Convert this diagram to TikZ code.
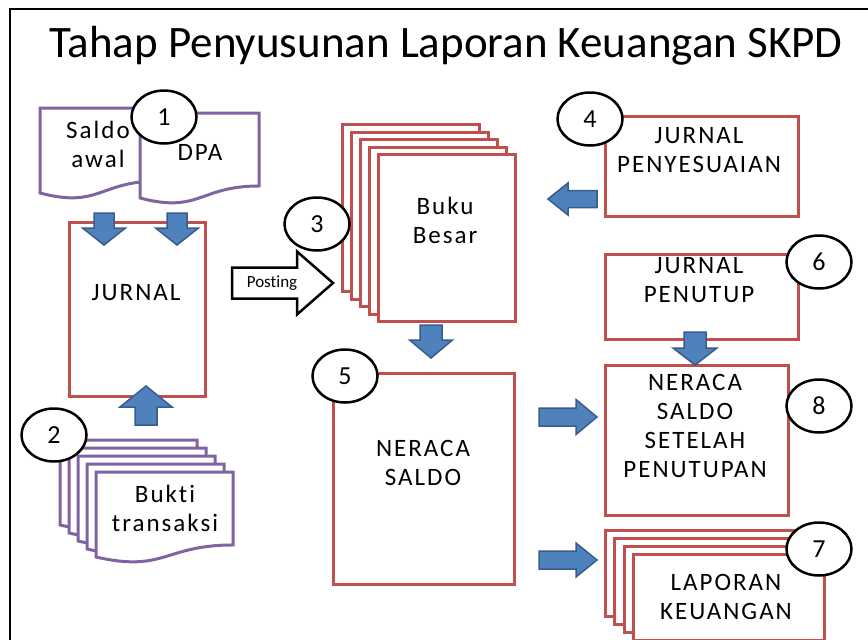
\documentclass[tikz,border=0pt]{standalone}
\usepackage{fontspec}
\setmainfont[Ligatures=NoCommon]{Carlito}
\newfontfamily\spacedfont[LetterSpace=8,Ligatures=NoCommon]{Carlito}
\usetikzlibrary{shapes.geometric}

\definecolor{boxred}{RGB}{192,80,77}
\definecolor{docpurple}{RGB}{128,100,162}
\definecolor{arrowblue}{RGB}{79,129,189}
\definecolor{arrowedge}{RGB}{56,93,138}

% block arrow: style, start, angle, length, shaft width, head width, head length
\newcommand{\blockarrow}[7]{%
  \draw[#1, shift={#2}, rotate=#3]
    (0,-#5/2) -- (#4-#7,-#5/2) -- (#4-#7,-#6/2) -- (#4,0)
    -- (#4-#7,#6/2) -- (#4-#7,#5/2) -- (0,#5/2) -- cycle;}

% document with wavy bottom: style, x, y, width, height
\newcommand{\docshape}[5]{%
  \draw[#1] (#2,#3) -- ({#2+#4},#3) -- ({#2+#4},{#3+0.802*#5})
    .. controls ({#2+0.5*#4},{#3+0.802*#5}) and ({#2+0.5*#4},{#3+1.107*#5})
    .. (#2,{#3+0.934*#5}) -- cycle;}

\begin{document}
\begin{tikzpicture}[x=1pt, y=-1pt,
    boxstyle/.style={draw=boxred, line width=3pt, fill=white, anchor=north west, inner sep=0pt},
    docstyle/.style={draw=docpurple, line width=3pt, fill=white},
    numstyle/.style={ellipse, draw, line width=2.5pt, fill=white, minimum width=65pt,
      minimum height=53pt, inner sep=0pt, font=\fontsize{26}{26}\selectfont},
    lbl/.style={align=center, font=\spacedfont\fontsize{25}{29}\selectfont},
    bluearrow/.style={fill=arrowblue, draw=arrowedge, line width=1.5pt},
    postarrow/.style={fill=white, draw=black, line width=2.5pt}]

  \useasboundingbox (0,0) rectangle (868,640);
  \draw[line width=1.8pt] (10,640) |- (868,9);

  \node[font=\fontsize{45}{50}\selectfont] (title) at (446,46) {Tahap Penyusunan Laporan Keuangan SKPD};

  % source documents
  \docshape{docstyle}{40}{108}{119}{91}
  \docshape{docstyle}{140}{113}{119}{91}
  \node[lbl] (saldo) at (98,144) {Saldo\\awal};
  \node[lbl] (dpa) at (200,152) {DPA};

  \foreach \i in {0,...,4}
    \docshape{docstyle}{60+9*\i}{440+8*\i}{137}{91}
  \node[lbl] (bukti) at (165,508) {Bukti\\transaksi};

  % journal
  \node[boxstyle, minimum width=136pt, minimum height=174pt] (jurnal) at (68,221) {};
  \node[lbl] (jurnaltxt) at (136,293) {JURNAL};

  % ledger
  \foreach \i in {0,...,4}
    \node[boxstyle, minimum width=137pt, minimum height=167pt] (buku\i) at ({341+9*\i},{123+7.5*\i}) {};
  \node[lbl] (bukutxt) at (445,220) {Buku\\Besar};

  \node[boxstyle, minimum width=181pt, minimum height=211pt] (neraca) at (332,372) {};
  \node[lbl] (neracatxt) at (423,463) {NERACA\\SALDO};

  \node[boxstyle, minimum width=193pt, minimum height=100pt] (penyesuaian) at (604,115) {};
  \node[lbl] (penyesuaiantxt) at (699,150) {JURNAL\\PENYESUAIAN};

  \node[boxstyle, minimum width=193pt, minimum height=85pt] (penutup) at (604,253) {};
  \node[lbl] (penutuptxt) at (699,280) {JURNAL\\PENUTUP};

  \node[boxstyle, minimum width=183pt, minimum height=150pt] (setelah) at (604,364) {};
  \node[lbl] (setelahtxt) at (695,426) {NERACA\\SALDO\\SETELAH\\PENUTUPAN};

  \foreach \i in {0,...,3}
    \node[boxstyle, minimum width=191pt, minimum height=86pt] (laporan\i) at ({604+9.33*\i},{529+8*\i}) {};
  \node[lbl] (laporantxt) at (726,597) {LAPORAN\\KEUANGAN};

  % arrows
  \blockarrow{bluearrow}{(104,213)}{-90}{32}{20}{43}{17}
  \blockarrow{bluearrow}{(177,213)}{-90}{32}{20}{43}{17}
  \blockarrow{bluearrow}{(146,425)}{90}{39}{22}{52}{21}
  \blockarrow{bluearrow}{(431,325)}{-90}{33}{22}{43}{18}
  \blockarrow{bluearrow}{(597,199)}{180}{49}{17}{32}{20}
  \blockarrow{bluearrow}{(695,332)}{-90}{33}{22}{44}{17}
  \blockarrow{bluearrow}{(539,417)}{0}{58}{18}{35}{21}
  \blockarrow{bluearrow}{(539,560)}{0}{58}{18}{34}{21}
  \blockarrow{postarrow}{(232,283)}{0}{101}{31}{63}{36}
  \node[font=\fontsize{17}{17}\selectfont] (posting) at (272,283) {Posting};

  % step numbers
  \node[numstyle] (n1) at (164,117) {1};
  \node[numstyle] (n2) at (54,435) {2};
  \node[numstyle] (n3) at (317,224) {3};
  \node[numstyle] (n4) at (590,119) {4};
  \node[numstyle] (n5) at (345,376) {5};
  \node[numstyle] (n6) at (819,262) {6};
  \node[numstyle] (n7) at (819,549) {7};
  \node[numstyle] (n8) at (819,406) {8};
\end{tikzpicture}
\end{document}
